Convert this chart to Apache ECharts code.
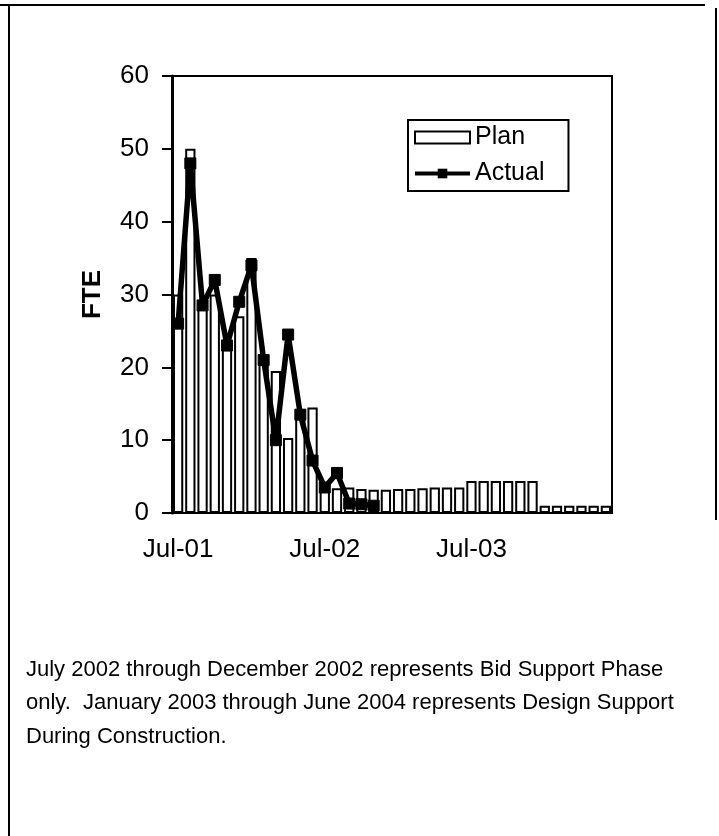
<!DOCTYPE html>
<html>
<head>
<meta charset="utf-8">
<script src="https://cdn.jsdelivr.net/npm/echarts@6/dist/echarts.min.js"></script>
<style>
html,body{margin:0;padding:0;background:#fff;}
#c{width:719px;height:836px;}
</style>
</head>
<body>
<div id="c"></div>
<script>
const months = ['Jul-01','Aug-01','Sep-01','Oct-01','Nov-01','Dec-01',
  'Jan-02','Feb-02','Mar-02','Apr-02','May-02','Jun-02',
  'Jul-02','Aug-02','Sep-02','Oct-02','Nov-02','Dec-02',
  'Jan-03','Feb-03','Mar-03','Apr-03','May-03','Jun-03',
  'Jul-03','Aug-03','Sep-03','Oct-03','Nov-03','Dec-03',
  'Jan-04','Feb-04','Mar-04','Apr-04','May-04','Jun-04'];
const shownLabels = ['Jul-01','Jul-02','Jul-03'];
const plan = [30,50,28,30,22.5,27,
  35,20.8,19.5,10.3,13.5,14.5,
  3.5,3.4,3.5,3.3,3.2,3.2,
  3.3,3.3,3.4,3.5,3.5,3.5,
  4.4,4.4,4.4,4.4,4.4,4.4,
  1,1,1,1,1,1];
const actual = [26,48,28.5,32,23,29,
  34,21,10,24.5,13.5,7.2,
  3.5,5.5,1.3,1.2,1.0];
const yTicks = {min:0, max:60, interval:10};
const footnote = 'July 2002 through December 2002 represents Bid Support Phase\nonly.  January 2003 through June 2004 represents Design Support\nDuring Construction.';

const FONT = "'Liberation Sans', Arial, sans-serif";
const chart = echarts.init(document.getElementById('c'), null, {renderer:'canvas'});
chart.setOption({
  animation:false,
  backgroundColor:'#fff',
  textStyle:{fontFamily:FONT, color:'#000'},
  grid:{left:172, top:76, right:107, bottom:323, show:true, borderColor:'#000', borderWidth:2, backgroundColor:'transparent'},
  legend:{
    left:408, top:120, orient:'vertical',
    backgroundColor:'#fff',
    borderColor:'#000', borderWidth:2,
    padding:[5,24,5,5], itemGap:11,
    itemWidth:55, itemHeight:12,
    lineStyle:{width:4},
    textStyle:{fontSize:25, fontFamily:FONT, color:'#000'},
    data:[{name:'Plan', icon:'rect'}, {name:'Actual'}]
  },
  xAxis:{
    type:'category', data:months, boundaryGap:true,
    axisLine:{lineStyle:{color:'#000', width:2}},
    axisTick:{show:false},
    axisLabel:{
      interval:0, margin:24, fontSize:26, color:'#000', fontFamily:FONT,
      formatter:(v)=> shownLabels.includes(v) ? v : ''
    },
    splitLine:{show:false}
  },
  yAxis:{
    type:'value', min:yTicks.min, max:yTicks.max, interval:yTicks.interval,
    name:'FTE', nameLocation:'middle', nameRotate:90, nameGap:66,
    nameTextStyle:{fontSize:26, fontWeight:'bold', color:'#000', fontFamily:FONT},
    axisLine:{show:true, lineStyle:{color:'#000', width:3}},
    axisTick:{show:true, inside:false, length:10, lineStyle:{color:'#000', width:2}},
    axisLabel:{fontSize:26, color:'#000', margin:23, fontFamily:FONT},
    splitLine:{show:false}
  },
  series:[
    {name:'Plan', type:'bar', data:plan, barCategoryGap:'16%',
     itemStyle:{color:'#fff', borderColor:'#000', borderWidth:2}, z:2},
    {name:'Actual', type:'line', data:actual,
     symbol:'rect', symbolSize:11, showSymbol:true,
     lineStyle:{color:'#000', width:5.5},
     itemStyle:{color:'#000', borderColor:'#000'}, z:3}
  ],
  graphic:[
    {type:'line', shape:{x1:0, y1:5, x2:705, y2:5}, style:{stroke:'#000', lineWidth:2}},
    {type:'line', shape:{x1:9, y1:5, x2:9, y2:836}, style:{stroke:'#000', lineWidth:2}},
    {type:'line', shape:{x1:716, y1:8, x2:716, y2:520}, style:{stroke:'#000', lineWidth:2}},
    {type:'text', left:26, top:653, style:{text:footnote, font:"22px 'Liberation Sans', Arial, sans-serif", fill:'#000', lineHeight:33.5}}
  ]
});
</script>
</body>
</html>
